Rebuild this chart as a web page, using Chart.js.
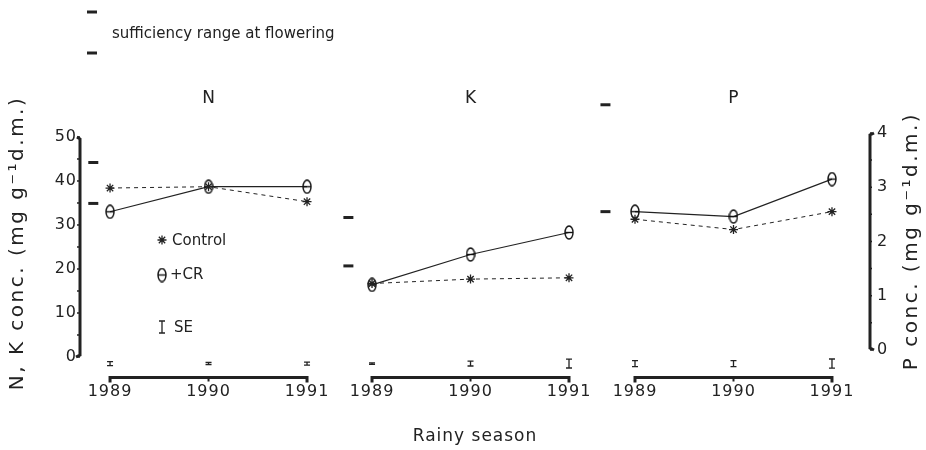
<!DOCTYPE html>
<html>
<head>
<meta charset="utf-8">
<script src="https://cdn.jsdelivr.net/npm/chart.js@4.4.1/dist/chart.umd.min.js"></script>
<style>
    html, body { margin: 0; padding: 0; background: #fff; }
    #wrap { width: 926px; height: 450px; }
</style>
</head>
<body>
<div id="wrap"><canvas id="chart" width="926" height="450"></canvas></div>
<script>
// Categories and values
const years = ['1989', '1990', '1991'];
const panelNames = ['N', 'K', 'P'];

const nControl = [38.4, 38.7, 35.3];
const nCR = [33.0, 38.7, 38.7];
const kControl = [16.7, 17.7, 18.0];
const kCR = [16.4, 23.3, 28.3];
const pControl = [2.41, 2.22, 2.55];
const pCR = [2.55, 2.46, 3.15];

// standard errors (drawn as I-bars under each panel)
const seN = [0.45, 0.25, 0.35];
const seK = [0, 0.55, 1.0];
const seP = [0.055, 0.055, 0.085];

// sufficiency range at flowering (low, high)
const rangeN = [34.9, 44.2];
const rangeK = [20.7, 31.7];
const rangeP = [2.55, 4.52];

const nkTicks = [0, 10, 20, 30, 40, 50];
const pTicks = [0, 1, 2, 3, 4];

// Layout
const panelStart = [0, 2.66, 5.33];      // x position of 1989 in each panel
const rangeShift = [-0.17, -0.24, -0.3]; // sufficiency marks sit left of 1989
const FONT = 'DejaVu Sans';
const INK = '#222';

const pts = (p, vals) => vals.map((v, i) => ({ x: panelStart[p] + i, y: v }));
const tickPositions = [];
panelStart.forEach(s => years.forEach((_, i) => tickPositions.push(s + i)));

// theta-like marker for +CR
const thetaMarker = (w, h) => {
    const c = document.createElement('canvas');
    c.width = w;
    c.height = h;
    const g = c.getContext('2d');
    g.strokeStyle = '#111';
    g.lineWidth = 1.4;
    g.beginPath();
    g.ellipse(w / 2, h / 2, w / 2 - 1, h / 2 - 1, 0, 0, Math.PI * 2);
    g.stroke();
    g.beginPath();
    g.moveTo(1, h / 2);
    g.lineTo(w - 1, h / 2);
    g.stroke();
    return c;
};
const theta = thetaMarker(10, 15);

const seriesSet = (p, ctrl, cr, axis) => [
    {
        label: 'Control',
        data: pts(p, ctrl),
        yAxisID: axis,
        borderColor: INK,
        borderWidth: 1,
        borderDash: [4, 4],
        pointStyle: 'star',
        pointRadius: 4.5,
        pointBorderWidth: 1.3,
        pointBorderColor: INK,
        pointBackgroundColor: INK,
        fill: false,
        clip: false
    },
    {
        label: '+CR',
        data: pts(p, cr),
        yAxisID: axis,
        borderColor: INK,
        borderWidth: 1.2,
        pointStyle: theta,
        pointRadius: 5,
        fill: false,
        clip: false
    }
];

const rangeSet = (p, vals, axis) => ({
    label: 'sufficiency range',
    data: vals.map(v => ({ x: panelStart[p] + rangeShift[p], y: v })),
    yAxisID: axis,
    showLine: false,
    pointStyle: 'line',
    pointRadius: 5,
    pointBorderWidth: 3,
    pointBorderColor: INK,
    clip: false
});

const decorations = {
    id: 'decorations',
    beforeDraw(chart) {
        // the plotter lettering of the original is widely spaced
        chart.ctx.letterSpacing = '1px';
    },
    afterDatasetsDraw(chart) {
        const { ctx, chartArea, scales } = chart;
        const x = scales.x;
        const yL = scales.y;
        const yR = scales.yP;
        ctx.save();
        ctx.strokeStyle = INK;
        ctx.fillStyle = INK;

        // left axis 0..50
        const l = chartArea.left;
        const l0 = yL.getPixelForValue(0);
        const l50 = yL.getPixelForValue(50);
        ctx.lineWidth = 3;
        ctx.beginPath();
        ctx.moveTo(l - 3, l50);
        ctx.lineTo(l, l50 + 2);
        ctx.lineTo(l, l0 - 2);
        ctx.lineTo(l - 4, l0);
        ctx.stroke();
        ctx.lineWidth = 1.5;
        for (let v = 0; v <= 50; v += 5) {
            const yy = yL.getPixelForValue(v);
            ctx.beginPath();
            ctx.moveTo(l - 3, yy);
            ctx.lineTo(l, yy);
            ctx.stroke();
        }

        // right axis 0..4
        const r = chartArea.right;
        const r0 = yR.getPixelForValue(0);
        const r4 = yR.getPixelForValue(4);
        ctx.lineWidth = 3;
        ctx.beginPath();
        ctx.moveTo(r + 4, r4);
        ctx.lineTo(r, r4 + 2);
        ctx.lineTo(r, r0 - 2);
        ctx.lineTo(r + 4, r0);
        ctx.stroke();
        ctx.lineWidth = 1.5;
        for (let v = 0; v <= 4; v += 0.5) {
            const yy = yR.getPixelForValue(v);
            ctx.beginPath();
            ctx.moveTo(r, yy);
            ctx.lineTo(r + 2, yy);
            ctx.stroke();
        }

        // bracket under each panel
        const yb = chartArea.bottom - 1.5;
        panelStart.forEach(s => {
            const xa = x.getPixelForValue(s);
            const xm = x.getPixelForValue(s + 1);
            const xb = x.getPixelForValue(s + 2);
            ctx.lineWidth = 3;
            ctx.beginPath();
            ctx.moveTo(xa, yb + 5);
            ctx.lineTo(xa, yb);
            ctx.lineTo(xb, yb);
            ctx.lineTo(xb, yb + 5);
            ctx.stroke();
            ctx.lineWidth = 2;
            ctx.beginPath();
            ctx.moveTo(xm, yb);
            ctx.lineTo(xm, yb + 4);
            ctx.stroke();
        });

        // SE bars
        const drawSE = (px, cy, half) => {
            ctx.lineWidth = 1.3;
            ctx.beginPath();
            ctx.moveTo(px, cy - half);
            ctx.lineTo(px, cy + half);
            ctx.moveTo(px - 3, cy - half);
            ctx.lineTo(px + 3, cy - half);
            ctx.moveTo(px - 3, cy + half);
            ctx.lineTo(px + 3, cy + half);
            ctx.stroke();
        };
        const seY = yL.getPixelForValue(-1.5);
        [[seN, yL], [seK, yL], [seP, yR]].forEach(([se, sc], p) => {
            se.forEach((v, i) => {
                const half = Math.abs(sc.getPixelForValue(v) - sc.getPixelForValue(0));
                drawSE(x.getPixelForValue(panelStart[p] + i), seY, Math.max(half, 0.8));
            });
        });

        // panel titles
        ctx.letterSpacing = '0px';
        ctx.font = `17px "${FONT}"`;
        ctx.textAlign = 'center';
        ctx.textBaseline = 'middle';
        panelNames.forEach((name, p) => {
            ctx.fillText(name, x.getPixelForValue(panelStart[p] + 1), 99);
        });

        // sufficiency range key at the top
        ctx.lineWidth = 3;
        [12, 53].forEach(yy => {
            ctx.beginPath();
            ctx.moveTo(87, yy);
            ctx.lineTo(97, yy);
            ctx.stroke();
        });
        ctx.font = `15px "${FONT}"`;
        ctx.textAlign = 'left';
        ctx.fillText('sufficiency range at flowering', 112, 34);

        // key inside the N panel
        ctx.lineWidth = 1.3;
        ctx.beginPath();
        for (let a = 0; a < 4; a++) {
            const ang = a * Math.PI / 4;
            ctx.moveTo(162 - 4.5 * Math.cos(ang), 240 - 4.5 * Math.sin(ang));
            ctx.lineTo(162 + 4.5 * Math.cos(ang), 240 + 4.5 * Math.sin(ang));
        }
        ctx.stroke();
        ctx.fillText('Control', 172, 241);
        ctx.drawImage(theta, 162 - 5, 275 - 7.5);
        ctx.fillText('+CR', 170, 275);
        drawSE(162, 327, 6);
        ctx.fillText('SE', 174, 328);

        // axis titles, both reading bottom to top
        ctx.font = `20px "${FONT}"`;
        ctx.textAlign = 'center';
        ctx.letterSpacing = '2.5px';
        ctx.save();
        ctx.translate(18, 243);
        ctx.rotate(-Math.PI / 2);
        ctx.fillText('N, K conc. (mg g⁻¹d.m.)', 0, 0);
        ctx.restore();
        ctx.translate(912, 241);
        ctx.rotate(-Math.PI / 2);
        ctx.fillText('P conc. (mg g⁻¹d.m.)', 0, 0);
        ctx.restore();
    }
};

const tickFont = { family: FONT, size: 16 };

new Chart(document.getElementById('chart'), {
    type: 'line',
    data: {
        datasets: [
            ...seriesSet(0, nControl, nCR, 'y'),
            ...seriesSet(1, kControl, kCR, 'y'),
            ...seriesSet(2, pControl, pCR, 'yP'),
            rangeSet(0, rangeN, 'y'),
            rangeSet(1, rangeK, 'y'),
            rangeSet(2, rangeP, 'yP')
        ]
    },
    options: {
        responsive: false,
        animation: false,
        layout: { padding: { top: 102, left: 0, right: 0, bottom: 0 } },
        plugins: {
            legend: { display: false },
            tooltip: { enabled: false }
        },
        scales: {
            x: {
                type: 'linear',
                min: -0.305,
                max: 7.716,
                afterFit: s => { s.height = 71; },
                afterBuildTicks: s => { s.ticks = tickPositions.map(v => ({ value: v })); },
                grid: { display: false, drawTicks: false },
                border: { display: false },
                ticks: {
                    padding: 3,
                    color: INK,
                    font: tickFont,
                    autoSkip: false,
                    maxRotation: 0,
                    callback: (v, i) => years[i % years.length]
                },
                title: {
                    display: true,
                    text: 'Rainy season',
                    color: INK,
                    font: { family: FONT, size: 17 },
                    padding: { top: 0, bottom: 3 }
                }
            },
            y: {
                position: 'left',
                min: -5,
                max: 57.95,
                afterFit: s => { s.width = 80; },
                afterBuildTicks: s => { s.ticks = nkTicks.map(v => ({ value: v })); },
                grid: { display: false, drawTicks: false },
                border: { display: false },
                ticks: { padding: 3, color: INK, font: tickFont }
            },
            yP: {
                position: 'right',
                min: -0.535,
                max: 4.571,
                afterFit: s => { s.width = 56; },
                afterBuildTicks: s => { s.ticks = pTicks.map(v => ({ value: v })); },
                grid: { display: false, drawTicks: false },
                border: { display: false },
                ticks: { padding: 7, color: INK, font: tickFont }
            }
        }
    },
    plugins: [decorations]
});
</script>
</body>
</html>
